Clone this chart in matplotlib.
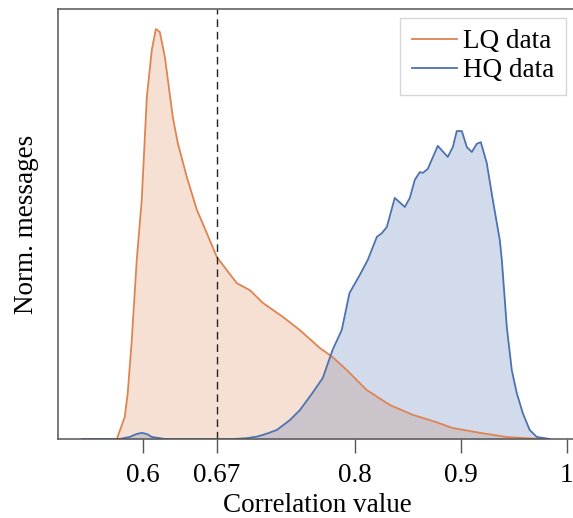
import matplotlib
matplotlib.use("Agg")
import matplotlib.pyplot as plt
import numpy as np

plt.rcParams['font.family'] = ['Liberation Serif', 'DejaVu Serif']
plt.rcParams['mathtext.fontset'] = 'stix'

# LQ data (orange) - correlation value vs normalised count
lq_x = [0.5755, 0.583, 0.5858, 0.5896, 0.5943, 0.599, 0.6038, 0.6085, 0.6123, 0.616,
        0.6208, 0.6283, 0.633, 0.6415, 0.651, 0.6604, 0.6698, 0.6792, 0.6887, 0.701,
        0.7132, 0.732, 0.748, 0.767, 0.779, 0.7925, 0.811, 0.833, 0.8547, 0.877,
        0.892, 0.918, 0.943, 0.968, 0.98]
lq_y = [0.0, 0.054, 0.112, 0.241, 0.437, 0.583, 0.834, 0.949, 1.0, 0.993,
        0.932, 0.785, 0.722, 0.639, 0.559, 0.502, 0.444, 0.412, 0.380, 0.363,
        0.332, 0.298, 0.266, 0.222, 0.200, 0.168, 0.120, 0.083, 0.059, 0.041,
        0.027, 0.015, 0.005, 0.001, 0.0]

# HQ data (blue)
hq_x = [0.5425, 0.578, 0.5877, 0.594, 0.599, 0.604, 0.6085, 0.621, 0.685, 0.698,
        0.708, 0.717, 0.7264, 0.7387, 0.748, 0.760, 0.7698, 0.779, 0.7877, 0.795,
        0.8047, 0.8123, 0.8208, 0.8255, 0.8302, 0.8377, 0.8472, 0.8519, 0.8566, 0.8613,
        0.8642, 0.8689, 0.8783, 0.8877, 0.8925, 0.8962, 0.901, 0.9057, 0.9104, 0.9151,
        0.9189, 0.9245, 0.9302, 0.9368, 0.9387, 0.9434, 0.9481, 0.9528, 0.9585, 0.965,
        0.9717, 0.984]
hq_y = [0.0, 0.0, 0.005, 0.012, 0.015, 0.012, 0.005, 0.0, 0.0, 0.002,
        0.006, 0.013, 0.022, 0.046, 0.07, 0.112, 0.149, 0.217, 0.266, 0.356,
        0.400, 0.437, 0.493, 0.502, 0.517, 0.588, 0.566, 0.588, 0.632, 0.651,
        0.649, 0.659, 0.715, 0.688, 0.712, 0.751, 0.751, 0.712, 0.700, 0.720,
        0.724, 0.673, 0.583, 0.485, 0.437, 0.273, 0.168, 0.112, 0.063, 0.022,
        0.005, 0.0]

xticks = [0.6, 0.67, 0.8, 0.9, 1.0]
xticklabels = ['0.6', '0.67', '0.8', '0.9', '1']
threshold = 0.67

c_lq = '#dd8452'
c_hq = '#4c72b0'
fs = 19.5

fig = plt.figure(figsize=(5.73, 5.18), dpi=100)
ax = fig.add_axes([58/573, 79/518, 540.6/573, 430/518])

ax.fill_between(lq_x, lq_y, 0, color=c_lq, alpha=0.25, linewidth=0)
ax.plot(lq_x, lq_y, color=c_lq, lw=1.3, label='LQ data')
ax.fill_between(hq_x, hq_y, 0, color=c_hq, alpha=0.25, linewidth=0)
ax.plot(hq_x, hq_y, color=c_hq, lw=1.3, label='HQ data')
ax.axvline(threshold, color='#222222', lw=1.0, ls=(0, (5.5, 3.5)))

ax.set_xlim(0.52, 1.03)
ax.set_ylim(0, 430/410)
ax.set_yticks([])
ax.set_xticks(xticks)
ax.set_xticklabels(xticklabels)
ax.tick_params(axis='x', labelsize=fs, length=10, width=1, color='#555555', direction='out', pad=7.5)
for s in ax.spines.values():
    s.set_color('#555555')
    s.set_linewidth(1.1)

ax.set_xlabel('Correlation value', fontsize=fs, labelpad=3.5, x=0.479)
ax.set_ylabel('Norm. messages', fontsize=fs, labelpad=14)

leg = ax.legend(loc='upper right', bbox_to_anchor=(566/573, 1 - 18/518),
                bbox_transform=fig.transFigure, borderaxespad=0, fontsize=fs,
                fancybox=False, edgecolor='#cccccc', handlelength=1.66,
                handletextpad=0.25, labelspacing=0.15, borderpad=0.42)
leg.get_frame().set_linewidth(1.0)

fig.savefig('out.png', dpi=100)
